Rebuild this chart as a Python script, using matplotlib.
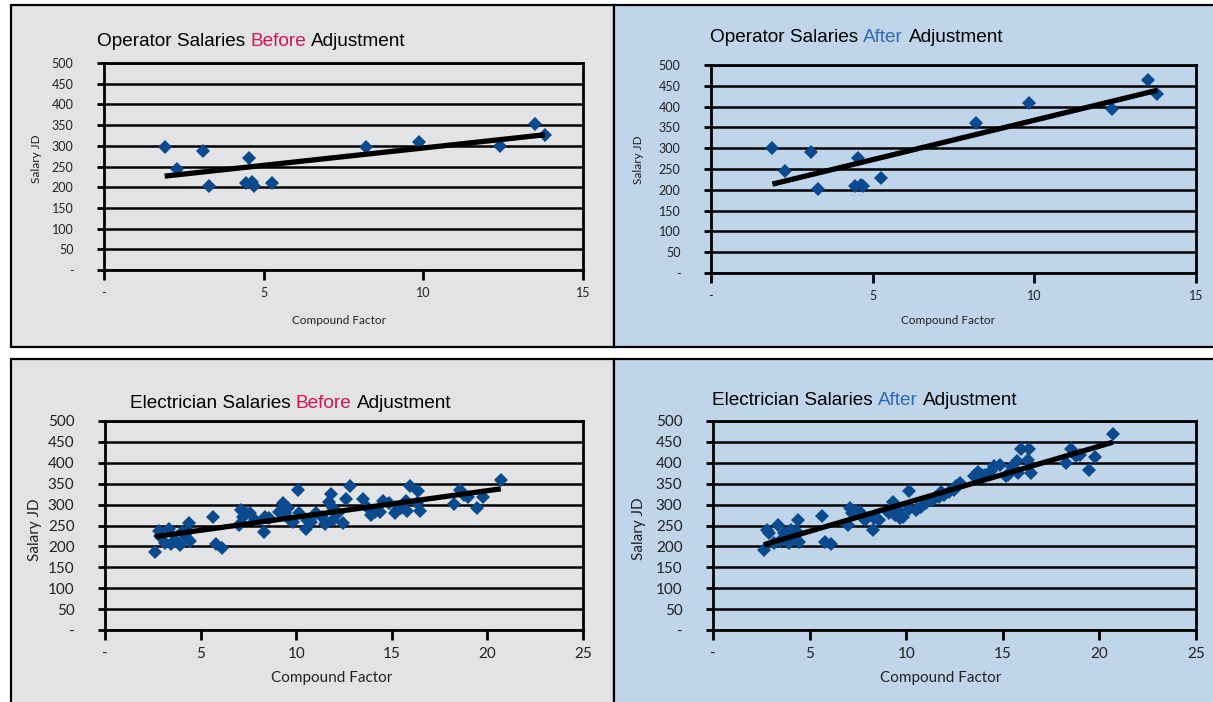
import matplotlib
matplotlib.use("Agg")
import matplotlib.pyplot as plt
from matplotlib.patches import Rectangle
import numpy as np

# ---------------- data ----------------
operator_factor = [1.9, 2.3, 3.1, 3.3, 4.55, 4.45, 4.65, 4.7, 5.25, 8.2, 9.85, 12.4, 13.5, 13.8]
operator_before = [297, 245, 288, 202, 270, 210, 212, 203, 210, 297, 310, 300, 352, 327]
operator_after = [301, 246, 291, 202, 277, 210, 211, 208, 229, 360, 408, 394, 463, 430]

elec_factor = [2.63, 2.8, 2.9, 3.15, 3.35, 3.45, 3.65, 3.92, 4.05, 4.23,
               4.35, 4.4, 4.45, 5.65, 5.8, 6.1, 7.0, 7.1, 7.2, 7.4,
               7.6, 7.85, 8.3, 8.35, 8.6, 9.1, 9.3, 9.4, 9.55, 9.7,
               9.85, 10.12, 10.16, 10.5, 10.55, 10.75, 11.05, 11.35, 11.5, 11.7,
               11.8, 11.9, 11.95, 12.2, 12.45, 12.6, 12.8, 13.5, 13.7, 13.9,
               14.1, 14.4, 14.55, 14.85, 15.15, 15.25, 15.5, 15.75, 15.8, 15.95,
               16.3, 16.35, 16.45, 18.25, 18.55, 18.8, 19.0, 19.45, 19.75, 20.7]
elec_before = [187, 237, 225, 207, 242, 205, 215, 203, 235, 222,
               238, 255, 214, 271, 205, 197, 251, 287, 271, 279,
               281, 263, 234, 271, 267, 283, 305, 279, 291, 263,
               259, 335, 279, 242, 263, 259, 279, 271, 254, 307,
               325, 291, 263, 279, 255, 313, 345, 313, 295, 275,
               283, 283, 309, 303, 279, 287, 291, 309, 285, 344,
               305, 332, 285, 301, 335, 323, 319, 291, 317, 360]
elec_after = [191, 239, 231, 207, 251, 212, 231, 207, 239, 226,
              235, 263, 211, 273, 211, 205, 251, 291, 279, 285,
              283, 263, 239, 267, 263, 279, 307, 275, 287, 267,
              271, 333, 289, 287, 290, 295, 303, 311, 315, 319,
              331, 325, 322, 330, 335, 345, 351, 368, 379, 372,
              371, 380, 393, 395, 368, 371, 391, 404, 375, 433,
              407, 433, 376, 399, 432, 416, 418, 383, 413, 470]

y_ticks = [0, 50, 100, 150, 200, 250, 300, 350, 400, 450, 500]
y_labels = ["-", "50", "100", "150", "200", "250", "300", "350", "400", "450", "500"]
op_x_ticks = [0, 5, 10, 15]
op_x_labels = ["-", "5", "10", "15"]
el_x_ticks = [0, 5, 10, 15, 20, 25]
el_x_labels = ["-", "5", "10", "15", "20", "25"]

# ---------------- style ----------------
W, H = 1213, 702
GRAY = "#e2e3e5"
BLUE = "#c0d4ea"
MARK = "#0b4a8e"
RED = "#d5144c"
TBLUE = "#2b69b3"
TICKFONT = "Lato"
TITLEFONT = "Liberation Sans"

fig = plt.figure(figsize=(W / 100, H / 100), dpi=100)
fig.patch.set_facecolor("white")


def fx(x):
    return x / W


def fy(y):
    return 1 - y / H


def panel(x0, y0, x1, y1, color):
    r = Rectangle((fx(x0), fy(y1)), fx(x1) - fx(x0), fy(y0) - fy(y1),
                  transform=fig.transFigure, facecolor=color,
                  edgecolor="black", linewidth=1.6, zorder=0)
    fig.add_artist(r)


panel(11, 5, 614, 347, GRAY)
panel(614, 5, 1220, 347, BLUE)
panel(11, 359, 614, 710, GRAY)
panel(614, 359, 1220, 710, BLUE)


def make_ax(l, t, r, b, xmax, xt, xl, x, y, big):
    ax = fig.add_axes([fx(l), fy(b), fx(r) - fx(l), fy(t) - fy(b)])
    ax.patch.set_visible(False)
    ax.set_xlim(0, xmax)
    ax.set_ylim(0, 500)
    ax.set_yticks(y_ticks)
    ax.set_yticklabels(y_labels)
    ax.set_xticks(xt)
    ax.set_xticklabels(xl)
    ls = 11 if big else 9
    ax.tick_params(axis="y", direction="out", length=5, width=2, pad=17,
                   labelsize=ls, labelcolor="#222222")
    ax.tick_params(axis="x", direction="out", length=7, width=2, pad=5,
                   labelsize=ls, labelcolor="#222222")
    for lab in ax.get_xticklabels() + ax.get_yticklabels():
        lab.set_family(TICKFONT)
    ax.yaxis.grid(True, color="black", linewidth=1.8)
    ax.set_axisbelow(True)
    for s in ax.spines.values():
        s.set_color("black")
        s.set_linewidth(2)
    ax.plot(x, y, linestyle="none", marker="D", markersize=7,
            color=MARK, markeredgewidth=0, zorder=3)
    xa = np.array(x, dtype=float)
    ya = np.array(y, dtype=float)
    k, c = np.polyfit(xa, ya, 1)
    xs = np.array([xa.min(), xa.max()])
    ax.plot(xs, k * xs + c, color="black", linewidth=3.8,
            solid_capstyle="butt", zorder=4)
    return ax


make_ax(104, 63, 583, 270, 15, op_x_ticks, op_x_labels,
        operator_factor, operator_before, False)
make_ax(711, 65, 1196, 273, 15, op_x_ticks, op_x_labels,
        operator_factor, operator_after, False)
make_ax(105, 421, 583, 630, 25, el_x_ticks, el_x_labels,
        elec_factor, elec_before, True)
make_ax(713, 421, 1196, 630, 25, el_x_ticks, el_x_labels,
        elec_factor, elec_after, True)

# axis labels
for (cx, cy, big) in [(339, 321, False), (948, 321, False), (332, 678, True), (941, 678, True)]:
    fig.text(fx(cx), fy(cy), "Compound Factor", ha="center", va="center",
             fontsize=11 if big else 8.5, family=TICKFONT, color="#222222")
for (cx, cy, big) in [(36, 159, False), (639, 160, False), (35, 530, True), (639, 529, True)]:
    fig.text(fx(cx), fy(cy), "Salary JD", ha="center", va="center", rotation=90,
             fontsize=11 if big else 8.5, family=TICKFONT, color="#222222")

# titles
renderer = fig.canvas.get_renderer()
TSIZE = 13.7


def title(x, ybase, parts):
    cur = x
    space = TSIZE * 0.278 * 100 / 72
    for s, col in parts:
        t = fig.text(fx(cur), fy(ybase), s, color=col, fontsize=TSIZE,
                     family=TITLEFONT, ha="left", va="baseline")
        w = t.get_window_extent(renderer=renderer).width
        cur += w + space


title(97, 45.5, [("Operator Salaries", "black"), ("Before", RED), ("Adjustment", "black")])
title(710, 42.3, [("Operator Salaries", "black"), ("After", TBLUE), ("Adjustment", "black")])
title(130, 408, [("Electrician Salaries", "black"), ("Before", RED), ("Adjustment", "black")])
title(712, 405, [("Electrician Salaries", "black"), ("After", TBLUE), ("Adjustment", "black")])

fig.savefig("out.png", dpi=100, facecolor="white")
